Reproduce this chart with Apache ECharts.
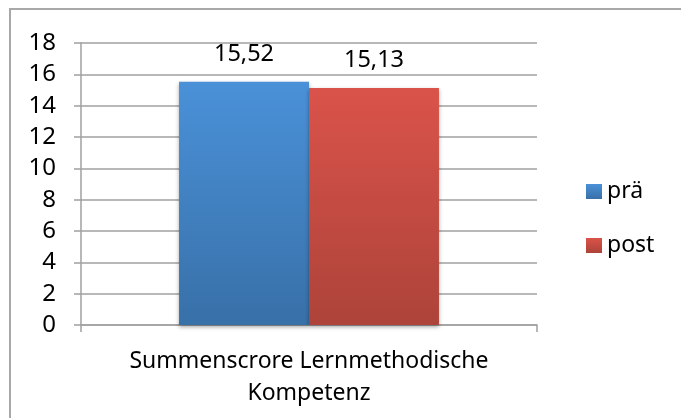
<!DOCTYPE html>
<html>
<head>
<meta charset="utf-8">
<script src="https://cdn.jsdelivr.net/npm/echarts@6/dist/echarts.min.js"></script>
<style>
html,body{margin:0;padding:0;background:#fff;}
#chart{width:681px;height:418px;}
</style>
</head>
<body>
<div id="chart"></div>
<script type="text/javascript">
var categories = ['Summenscrore Lernmethodische\nKompetenz'];
var praeValues = [15.52];
var postValues = [15.13];
var yTicks = { min: 0, max: 18, interval: 2 };

function grad(top, bottom) {
	return {
		type: 'linear', x: 0, y: 0, x2: 0, y2: 1,
		colorStops: [{ offset: 0, color: top }, { offset: 1, color: bottom }]
	};
}

var font = 'Noto Sans';
var labelStyle = {
	show: true,
	position: 'top',
	distance: 16,
	color: '#000',
	fontFamily: font,
	fontSize: 23.5,
	formatter: function (p) { return String(p.value).replace('.', ','); }
};

var myChart = echarts.init(document.getElementById('chart'));
myChart.setOption({
	animation: false,
	graphic: [{
		type: 'rect',
		shape: { x: 10, y: 9, width: 720, height: 460 },
		style: { fill: 'none', stroke: '#a8a8a8', lineWidth: 2 },
		silent: true
	}],
	grid: { left: 81, right: 144, top: 43, bottom: 93 },
	legend: {
		orient: 'vertical',
		left: 581,
		top: 175,
		itemWidth: 16,
		itemHeight: 15,
		itemGap: 31,
		icon: 'rect',
		textStyle: { color: '#000', fontFamily: font, fontSize: 23, lineHeight: 23 },
		data: ['prä', 'post']
	},
	xAxis: {
		type: 'category',
		data: categories,
		axisLine: { lineStyle: { color: '#a0a0a0', width: 1.5 } },
		axisTick: { show: true, length: 7, lineStyle: { color: '#a0a0a0', width: 1.5 } },
		axisLabel: {
			color: '#000', fontFamily: font, fontSize: 23, lineHeight: 32, margin: 20
		}
	},
	yAxis: {
		type: 'value',
		min: yTicks.min,
		max: yTicks.max,
		interval: yTicks.interval,
		axisLine: { show: true, lineStyle: { color: '#a0a0a0', width: 1.5 } },
		axisTick: { show: true, length: 7, lineStyle: { color: '#a0a0a0', width: 1.5 } },
		axisLabel: { color: '#000', fontFamily: font, fontSize: 24, margin: 25 },
		splitLine: { lineStyle: { color: '#a0a0a0', width: 1.5 } }
	},
	series: [{
		name: 'prä',
		type: 'bar',
		data: praeValues,
		barGap: '0%',
		barCategoryGap: '43%',
		label: labelStyle,
		itemStyle: {
			color: grad('#4a91d8', '#3870a8'),
			shadowColor: 'rgba(0,0,0,0.35)', shadowBlur: 4, shadowOffsetY: 2
		}
	}, {
		name: 'post',
		type: 'bar',
		data: postValues,
		label: labelStyle,
		itemStyle: {
			color: grad('#da534a', '#ad433a'),
			shadowColor: 'rgba(0,0,0,0.35)', shadowBlur: 4, shadowOffsetY: 2
		}
	}]
});
</script>
</body>
</html>
